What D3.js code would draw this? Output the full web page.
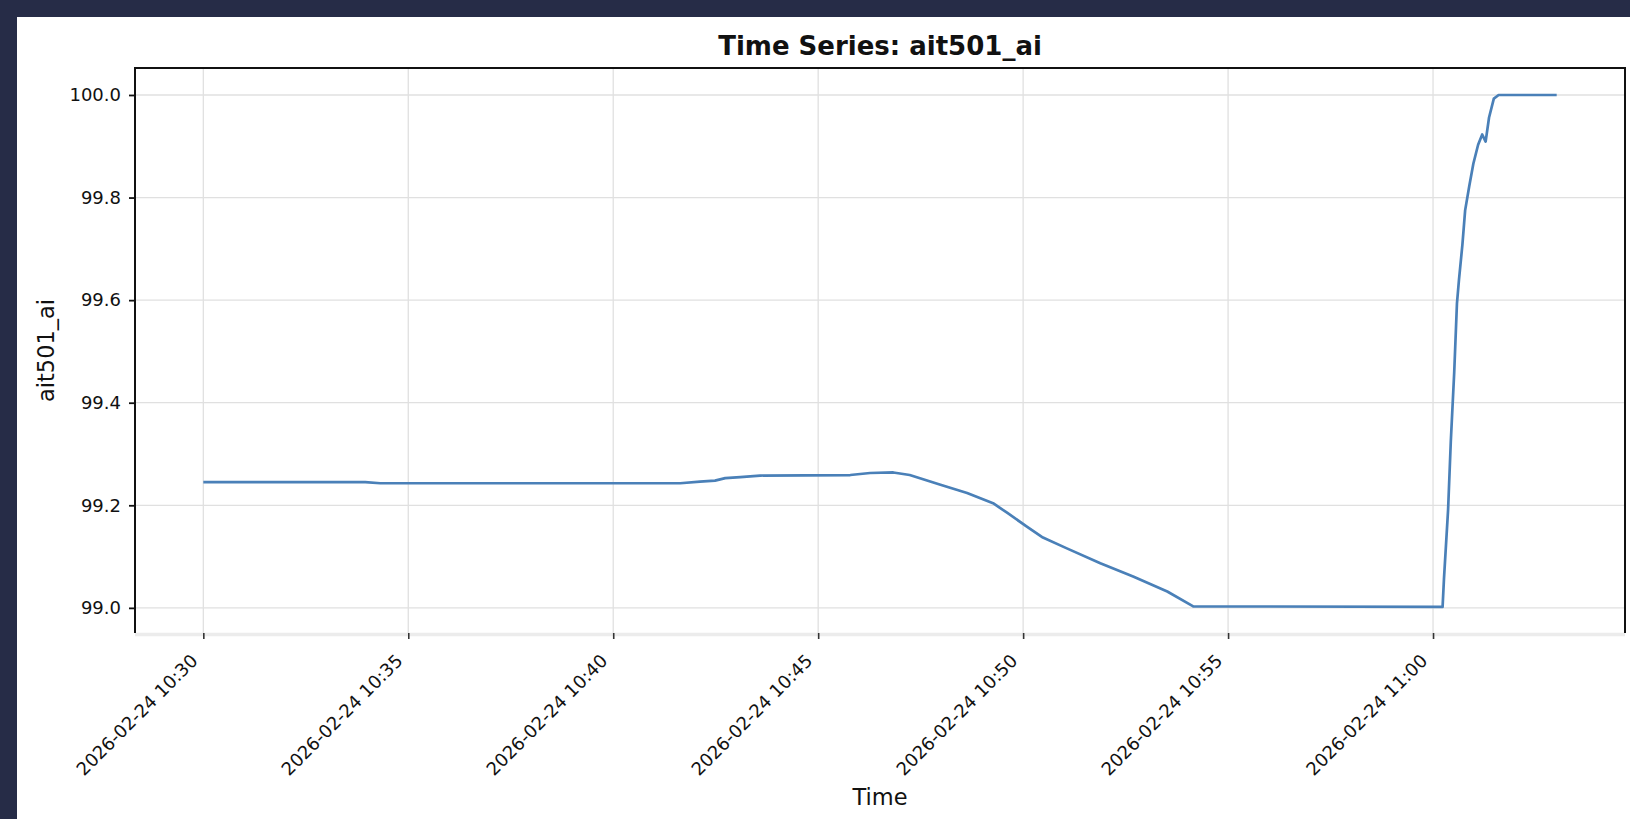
<!DOCTYPE html>
<html>
<head>
<meta charset="utf-8">
<script src="https://cdn.jsdelivr.net/npm/d3@7/dist/d3.min.js"></script>
<style>
  html, body { margin: 0; padding: 0; background: #262c47; }
  svg { display: block; }
  text { font-family: "DejaVu Sans", sans-serif; fill: #111; }
</style>
</head>
<body>
<svg id="chart" width="1630" height="819"></svg>
<script>
// Sensor readings for ait501_ai on 2026-02-24 (clock time, value)
const sampleTimes = [
  "10:30:00", "10:33:57", "10:34:19", "10:41:38", "10:42:07", "10:42:29",
  "10:42:44", "10:43:06", "10:43:35", "10:45:47", "10:46:16", "10:46:50",
  "10:47:14", "10:47:59", "10:48:38", "10:49:16", "10:49:37", "10:50:06",
  "10:50:29", "10:51:04", "10:51:53", "10:52:41", "10:53:31", "10:54:09",
  "11:00:14", "11:00:16", "11:00:22", "11:00:26", "11:00:31", "11:00:35",
  "11:00:38", "11:00:43", "11:00:47", "11:00:53", "11:00:59", "11:01:06",
  "11:01:12", "11:01:17", "11:01:22", "11:01:29", "11:01:36", "11:03:01"
];
const sampleValues = [
  99.245, 99.245, 99.243, 99.243, 99.246, 99.248,
  99.253, 99.255, 99.258, 99.259, 99.263, 99.264,
  99.259, 99.240, 99.224, 99.204, 99.185, 99.158,
  99.137, 99.116, 99.087, 99.061, 99.032, 99.003,
  99.002, 99.056, 99.190, 99.324, 99.459, 99.593,
  99.640, 99.708, 99.775, 99.822, 99.866, 99.903,
  99.923, 99.909, 99.956, 99.993, 100.0, 100.0
];
const sampleDate = "2026-02-24";

// Axis settings
const xDomainTimes = ["10:28:20", "11:04:41"];
const yDomain = [98.951, 100.0526];
const yTickValues = [99.0, 99.2, 99.4, 99.6, 99.8, 100.0];
const xTickTimes = ["10:30:00", "10:35:00", "10:40:00", "10:45:00", "10:50:00", "10:55:00", "11:00:00"];

const titleText = "Time Series: ait501_ai";
const xLabelText = "Time";
const yLabelText = "ait501_ai";

const parse = d3.timeParse("%Y-%m-%d %H:%M:%S");
const toDate = t => parse(sampleDate + " " + t);
const data = sampleTimes.map((t, i) => ({ t: toDate(t), v: sampleValues[i] }));

const svg = d3.select("#chart");

// white canvas panel
svg.append("rect").attr("x", 17).attr("y", 17).attr("width", 1630 - 17).attr("height", 819 - 17).attr("fill", "#ffffff");

const plot = { left: 135, top: 68, right: 1625, bottom: 633 };

const x = d3.scaleTime()
  .domain(xDomainTimes.map(toDate))
  .range([plot.left, plot.right]);
const y = d3.scaleLinear()
  .domain(yDomain)
  .range([plot.bottom, plot.top]);

const xTicks = xTickTimes.map(toDate);
const fmtX = d3.timeFormat("%Y-%m-%d %H:%M");
const fmtY = d3.format(".1f");

// grid
const grid = svg.append("g").attr("stroke", "#e0e0e0").attr("stroke-width", 1.3);
grid.selectAll("line.gx").data(xTicks).join("line")
  .attr("x1", d => x(d)).attr("x2", d => x(d))
  .attr("y1", plot.top).attr("y2", plot.bottom);
grid.selectAll("line.gy").data(yTickValues).join("line")
  .attr("x1", plot.left).attr("x2", plot.right)
  .attr("y1", d => y(d)).attr("y2", d => y(d));

// bottom edge band
svg.append("line")
  .attr("x1", plot.left).attr("x2", plot.right)
  .attr("y1", plot.bottom + 1.5).attr("y2", plot.bottom + 1.5)
  .attr("stroke", "#ececec").attr("stroke-width", 3.5);

// series line
const line = d3.line().x(d => x(d.t)).y(d => y(d.v));
svg.append("path")
  .datum(data)
  .attr("d", line)
  .attr("fill", "none")
  .attr("stroke", "#4a80b8")
  .attr("stroke-width", 2.7)
  .attr("stroke-linejoin", "round");

// y axis
const yAxis = d3.axisLeft(y).tickValues(yTickValues).tickFormat(fmtY).tickSize(6).tickPadding(8);
const gy = svg.append("g").attr("transform", `translate(${plot.left},0)`).call(yAxis);
gy.select(".domain").remove();
gy.selectAll(".tick line").attr("stroke", "#111").attr("stroke-width", 1.8);
gy.selectAll(".tick text").attr("font-size", 18).attr("font-family", "DejaVu Sans").attr("fill", "#222");

// x axis
const xAxis = d3.axisBottom(x).tickValues(xTicks).tickFormat(fmtX).tickSize(6).tickPadding(0);
const gx = svg.append("g").attr("transform", `translate(0,${plot.bottom})`).call(xAxis);
gx.select(".domain").remove();
gx.selectAll(".tick line").attr("stroke", "#333").attr("stroke-width", 1.6);
gx.selectAll(".tick text")
  .attr("font-size", 18).attr("font-family", "DejaVu Sans").attr("fill", "#222")
  .attr("text-anchor", "end")
  .attr("dy", null).attr("y", null)
  .attr("transform", "translate(-5,29) rotate(-45)");

// spines: left, top, right
const spine = svg.append("g").attr("stroke", "#111").attr("stroke-width", 2).attr("fill", "none");
spine.append("path").attr("d", `M${plot.left},${plot.bottom}V${plot.top}H${plot.right}V${plot.bottom}`);

// title and labels
svg.append("text").attr("x", (plot.left + plot.right) / 2).attr("y", 55)
  .attr("text-anchor", "middle").attr("font-size", 26).attr("font-weight", "bold")
  .text(titleText);
svg.append("text").attr("x", (plot.left + plot.right) / 2).attr("y", 805)
  .attr("text-anchor", "middle").attr("font-size", 22.5)
  .text(xLabelText);
svg.append("text")
  .attr("transform", `translate(54,${(plot.top + plot.bottom) / 2}) rotate(-90)`)
  .attr("text-anchor", "middle").attr("font-size", 22.5)
  .text(yLabelText);
</script>
</body>
</html>
